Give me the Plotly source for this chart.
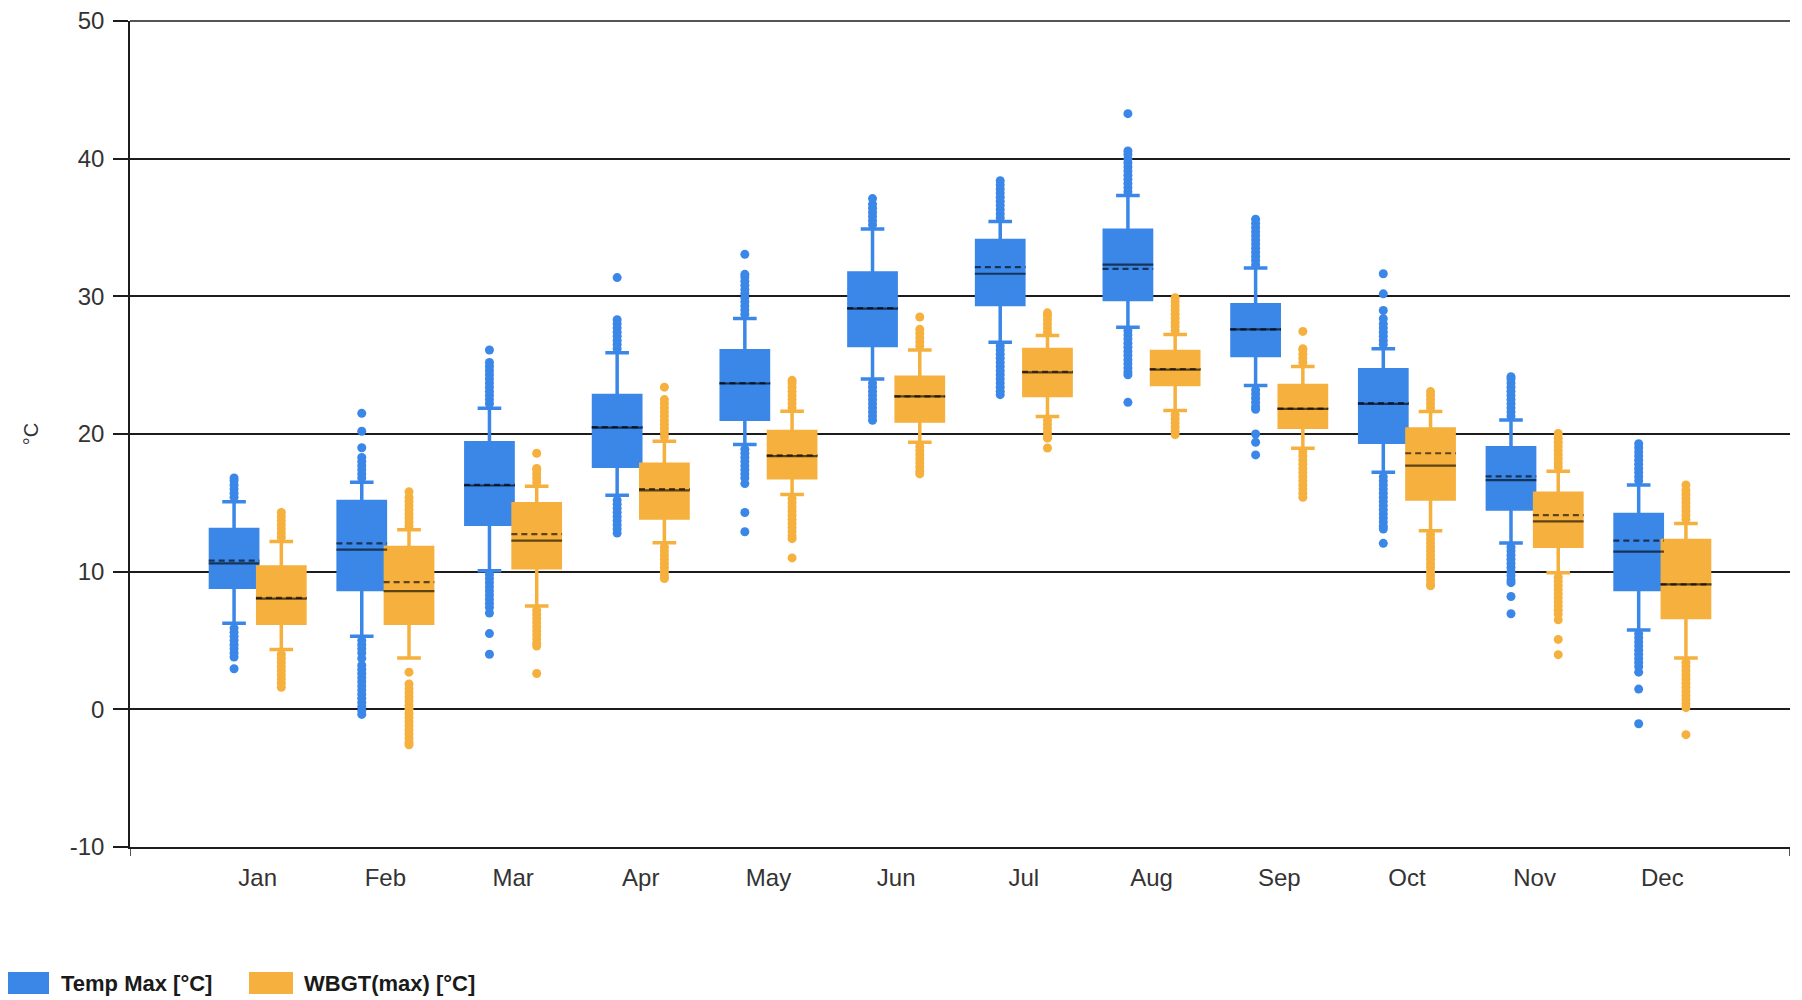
import plotly.graph_objects as go

# ---------------- data ----------------
months = ["Jan", "Feb", "Mar", "Apr", "May", "Jun", "Jul", "Aug", "Sep", "Oct", "Nov", "Dec"]

temp_q1 = [8.87, 8.7, 13.44, 17.65, 21.08, 26.42, 29.4, 29.77, 25.7, 19.4, 14.55, 8.7]
temp_median = [10.6, 11.6, 16.26, 20.47, 23.67, 29.1, 31.64, 32.3, 27.6, 22.19, 16.65, 11.45]
temp_q3 = [13.06, 15.1, 19.37, 22.8, 26.04, 31.7, 34.06, 34.8, 29.38, 24.66, 19.0, 14.15]
temp_mean = [10.8, 12.06, 16.3, 20.5, 23.7, 29.15, 32.12, 32.0, 27.6, 22.25, 16.92, 12.26]
temp_lower = [6.25, 5.3, 10.07, 15.55, 19.24, 24.0, 26.67, 27.76, 23.52, 17.22, 12.09, 5.76]
temp_upper = [15.07, 16.5, 21.87, 25.9, 28.39, 34.9, 35.44, 37.33, 32.05, 26.2, 21.02, 16.3]
temp_outliers = [
    [15.4, 15.7, 16.0, 16.3, 16.6, 16.8, 5.9, 5.6, 5.3, 5.0, 4.7, 4.4, 4.1, 3.8, 2.95],
    [16.8, 17.1, 17.4, 17.7, 18.0, 18.3, 19.0, 20.2, 21.5,
     5.0, 4.7, 4.4, 4.1, 3.7, 3.2, 2.9, 2.6, 2.3, 2.0, 1.7, 1.4, 1.1, 0.8, 0.5, 0.2, -0.1, -0.37],
    [22.2, 22.5, 22.8, 23.1, 23.4, 23.7, 24.0, 24.3, 24.6, 24.9, 25.2, 26.1,
     9.8, 9.5, 9.2, 8.9, 8.6, 8.3, 8.0, 7.7, 7.4, 7.0, 5.5, 4.0],
    [26.2, 26.5, 26.8, 27.1, 27.4, 27.7, 28.0, 28.3, 31.36,
     15.2, 14.9, 14.6, 14.3, 14.0, 13.7, 13.4, 13.1, 12.8],
    [28.7, 29.0, 29.3, 29.6, 29.9, 30.2, 30.5, 30.8, 31.1, 31.4, 31.6, 33.05,
     18.9, 18.6, 18.3, 18.0, 17.7, 17.4, 17.1, 16.8, 16.4, 14.3, 12.9],
    [35.2, 35.5, 35.8, 36.1, 36.4, 36.7, 37.1,
     23.7, 23.4, 23.1, 22.8, 22.5, 22.2, 21.9, 21.6, 21.3, 21.0],
    [35.7, 36.0, 36.3, 36.6, 36.9, 37.2, 37.5, 37.8, 38.1, 38.4,
     26.4, 26.1, 25.8, 25.5, 25.2, 24.9, 24.6, 24.3, 24.0, 23.7, 23.4, 23.1, 22.86],
    [37.6, 37.9, 38.2, 38.5, 38.8, 39.1, 39.4, 39.7, 40.0, 40.3, 40.56, 43.27,
     27.5, 27.2, 26.9, 26.6, 26.3, 26.0, 25.7, 25.4, 25.1, 24.8, 24.5, 24.3, 22.3],
    [32.3, 32.6, 32.9, 33.2, 33.5, 33.8, 34.1, 34.4, 34.7, 35.0, 35.3, 35.6,
     23.2, 22.9, 22.6, 22.3, 22.0, 21.8, 20.0, 19.4, 18.48],
    [26.5, 26.8, 27.1, 27.4, 27.7, 28.0, 28.37, 28.97, 30.18, 31.64,
     16.9, 16.6, 16.3, 16.0, 15.7, 15.4, 15.1, 14.8, 14.5, 14.2, 13.9, 13.6, 13.3, 13.1, 12.06],
    [21.3, 21.6, 21.9, 22.2, 22.5, 22.8, 23.1, 23.4, 23.7, 24.0, 24.16,
     11.8, 11.5, 11.2, 10.9, 10.6, 10.3, 10.0, 9.7, 9.4, 9.2, 8.2, 6.94],
    [16.6, 16.9, 17.2, 17.5, 17.8, 18.1, 18.4, 18.7, 19.0, 19.3,
     5.5, 5.2, 4.9, 4.6, 4.3, 4.0, 3.7, 3.4, 3.1, 2.7, 1.47, -1.05],
]

wbgt_q1 = [6.25, 6.25, 10.28, 13.9, 16.82, 20.95, 22.79, 23.6, 20.49, 15.28, 11.85, 6.67]
wbgt_median = [8.04, 8.58, 12.25, 15.9, 18.4, 22.73, 24.48, 24.68, 21.82, 17.7, 13.66, 9.07]
wbgt_q3 = [10.34, 11.76, 14.94, 17.8, 20.19, 24.13, 26.13, 26.0, 23.52, 20.37, 15.7, 12.26]
wbgt_mean = [8.09, 9.24, 12.73, 16.0, 18.45, 22.73, 24.52, 24.72, 21.85, 18.6, 14.1, 9.07]
wbgt_lower = [4.34, 3.73, 7.5, 12.1, 15.6, 19.4, 21.28, 21.7, 18.97, 12.98, 9.93, 3.73]
wbgt_upper = [12.2, 13.04, 16.2, 19.47, 21.66, 26.1, 27.15, 27.22, 24.9, 21.63, 17.29, 13.49]
wbgt_outliers = [
    [12.5, 12.8, 13.1, 13.4, 13.7, 14.0, 14.3, 4.0, 3.7, 3.4, 3.1, 2.8, 2.5, 2.2, 1.9, 1.6],
    [13.3, 13.6, 13.9, 14.2, 14.5, 14.8, 15.1, 15.4, 15.8,
     2.7, 1.84, 1.5, 1.2, 0.9, 0.6, 0.3, 0.0, -0.3, -0.6, -0.9, -1.2, -1.5, -1.8, -2.1, -2.4, -2.57],
    [16.5, 16.8, 17.1, 17.4, 17.5, 18.6,
     7.2, 6.9, 6.6, 6.3, 6.0, 5.7, 5.4, 5.1, 4.8, 4.6, 2.6],
    [19.8, 20.1, 20.4, 20.7, 21.0, 21.3, 21.6, 21.9, 22.2, 22.5, 23.4,
     11.8, 11.5, 11.2, 10.9, 10.6, 10.3, 10.0, 9.7, 9.5],
    [21.9, 22.2, 22.5, 22.8, 23.1, 23.4, 23.7, 23.9,
     15.3, 15.0, 14.7, 14.4, 14.1, 13.8, 13.5, 13.2, 12.9, 12.6, 12.4, 11.0],
    [26.4, 26.7, 27.0, 27.3, 27.6, 28.5,
     19.1, 18.8, 18.5, 18.2, 17.9, 17.6, 17.3, 17.1],
    [27.4, 27.7, 28.0, 28.3, 28.6, 28.8,
     21.0, 20.7, 20.4, 20.1, 19.8, 19.7, 18.98],
    [27.5, 27.8, 28.1, 28.4, 28.7, 29.0, 29.3, 29.6, 29.9,
     21.4, 21.1, 20.8, 20.5, 20.2, 19.95],
    [25.2, 25.5, 25.8, 26.1, 26.2, 27.45,
     18.7, 18.4, 18.1, 17.8, 17.5, 17.2, 16.9, 16.6, 16.3, 16.0, 15.7, 15.4],
    [21.9, 22.2, 22.5, 22.8, 23.08,
     12.7, 12.4, 12.1, 11.8, 11.5, 11.2, 10.9, 10.6, 10.3, 10.0, 9.7, 9.4, 9.1, 8.98],
    [17.6, 17.9, 18.2, 18.5, 18.8, 19.1, 19.4, 19.7, 20.04,
     9.6, 9.3, 9.0, 8.7, 8.4, 8.1, 7.8, 7.5, 7.2, 6.9, 6.5, 5.08, 3.97],
    [13.8, 14.1, 14.4, 14.7, 15.0, 15.3, 15.6, 15.9, 16.3,
     3.4, 3.1, 2.8, 2.5, 2.2, 1.9, 1.6, 1.3, 1.0, 0.7, 0.4, 0.12, -1.84],
]

y_ticks = [-10, 0, 10, 20, 30, 40, 50]
y_ticktext = ["-10", "0", "10", "20", "30", "40", "50"]
series_names = ["Temp Max [°C]", "WBGT(max) [°C]"]

# ---------------- style ----------------
BLUE = "#3A87E8"
ORANGE = "#F6B03E"
DARK = "rgba(0,0,0,0.62)"
AXIS = "#1c1c1c"
TEXT = "#333333"
FONT = "Liberation Sans, Arial, sans-serif"

# the page body adds an 8px offset; pixel positions below are in figure coordinates
W, H = 1802, 1000
ML, MT = 122, 13
PLOT_R, PLOT_B = 1782, 839
MR, MB = W - PLOT_R, H - PLOT_B
PW, PH = PLOT_R - ML, PLOT_B - MT

BOXGAP = 0.26
BOX_W = (1 - BOXGAP) / 2          # width of each box in category units
LINE_W = 3.5
EXT = (LINE_W / 2) / (PW / 13)    # half outline width in data units

x_idx = list(range(len(months)))

fig = go.Figure()


def add_series(name, color, q1, med, q3, mean, lo, hi, outliers, side):
    center_off = side * BOX_W / 2
    fig.add_trace(go.Box(
        x=x_idx, q1=q1, median=med, q3=q3, lowerfence=lo, upperfence=hi,
        name=name, fillcolor=color, line=dict(color=color, width=LINE_W),
        whiskerwidth=0.5, boxpoints=False, showlegend=False, hoverinfo="skip",
    ))
    ox, oy = [], []
    for i, vals in enumerate(outliers):
        for v in vals:
            ox.append(i + center_off)
            oy.append(v)
    fig.add_trace(go.Scatter(
        x=ox, y=oy, mode="markers", showlegend=False, hoverinfo="skip",
        marker=dict(color=color, size=9, line=dict(width=0)),
    ))
    left = [i + center_off - BOX_W / 2 - EXT for i in x_idx]
    right = [i + center_off + BOX_W / 2 + EXT for i in x_idx]
    for vals, dash in ((med, "solid"), (mean, "6px,4px")):
        lx, ly = [], []
        for i in x_idx:
            lx += [left[i], right[i], None]
            ly += [vals[i], vals[i], None]
        fig.add_trace(go.Scatter(
            x=lx, y=ly, mode="lines", showlegend=False, hoverinfo="skip",
            line=dict(color=DARK, width=2.2, dash=dash),
        ))


add_series(series_names[0], BLUE, temp_q1, temp_median, temp_q3, temp_mean,
           temp_lower, temp_upper, temp_outliers, -1)
add_series(series_names[1], ORANGE, wbgt_q1, wbgt_median, wbgt_q3, wbgt_mean,
           wbgt_lower, wbgt_upper, wbgt_outliers, +1)


def px_x(p):
    return (p - ML) / PW


def px_y(p):
    return (PLOT_B - p) / PH


shapes = []
for xv in (-1, 12):
    shapes.append(dict(type="line", xref="x", yref="paper", x0=xv, x1=xv,
                       ysizemode="pixel", yanchor=0, y0=0, y1=-9,
                       line=dict(color=AXIS, width=1.5)))
# top boundary line (top of the y range), drawn unclipped
shapes.append(dict(type="line", xref="paper", yref="paper", x0=0, x1=1, y0=1, y1=1,
                   line=dict(color=AXIS, width=1.5)))
legend_items = [(series_names[0], BLUE, -2, 41, 51), (series_names[1], ORANGE, 241, 285, 294)]
annotations = []
for name, color, x0, x1, tx in legend_items:
    shapes.append(dict(type="rect", xref="paper", yref="paper",
                       x0=px_x(max(x0, 0)), x1=px_x(x1), y0=px_y(986), y1=px_y(964),
                       fillcolor=color, line=dict(width=0)))
    annotations.append(dict(text=name, xref="paper", yref="paper", x=px_x(tx), y=px_y(975),
                            xanchor="left", yanchor="middle", showarrow=False,
                            font=dict(family=FONT, size=22, color="#1a1a1a", weight="bold")))

fig.update_layout(
    width=W, height=H,
    margin=dict(l=ML, r=MR, t=MT, b=MB, autoexpand=False),
    paper_bgcolor="white", plot_bgcolor="white",
    boxmode="group", boxgap=BOXGAP, boxgroupgap=0,
    font=dict(family=FONT, size=24, color=TEXT),
    showlegend=False,
    shapes=shapes, annotations=annotations,
    xaxis=dict(
        range=[-1, 12], tickmode="array", tickvals=x_idx, ticktext=months,
        showgrid=False, zeroline=False, showline=True, linecolor=AXIS, linewidth=1.5,
        ticks="", ticklabelstandoff=8, tickfont=dict(size=24, color=TEXT),
    ),
    yaxis=dict(
        range=[-10, 50], tickmode="array", tickvals=y_ticks, ticktext=y_ticktext,
        showgrid=True, gridcolor=AXIS, gridwidth=1.5, zeroline=False,
        showline=True, linecolor=AXIS, linewidth=1.5,
        ticks="outside", ticklen=15, tickcolor=AXIS, tickwidth=1.5,
        ticklabelstandoff=4, ticklabeloverflow="allow",
        tickfont=dict(size=24, color=TEXT),
        title=dict(text="°C", standoff=26, font=dict(size=20, color=TEXT)),
    ),
)

fig.write_html("out.html")
